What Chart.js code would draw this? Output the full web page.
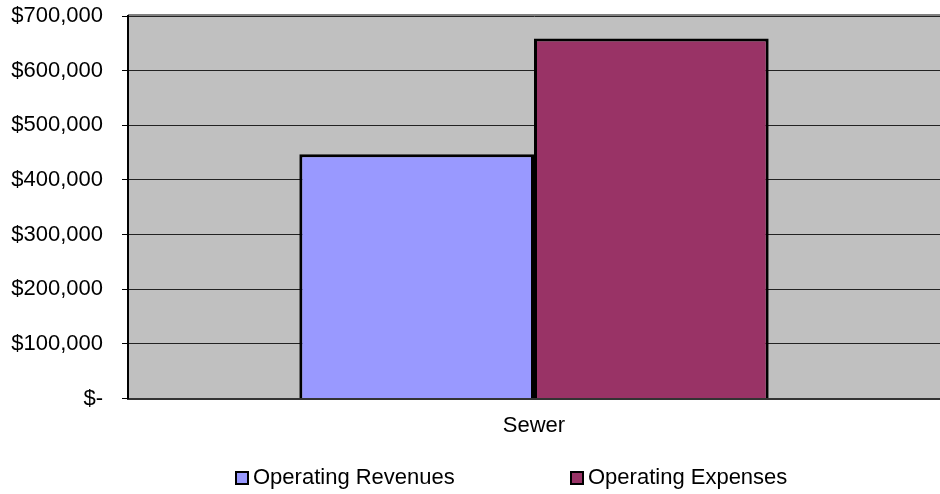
<!DOCTYPE html>
<html>
<head>
<meta charset="utf-8">
<script src="https://cdn.jsdelivr.net/npm/chart.js@4"></script>
<style>
  html, body { margin: 0; padding: 0; background: #fff; }
  #wrap { width: 940px; height: 494px; }
</style>
</head>
<body>
<div id="wrap"><canvas id="Sewer_Chart" width="940" height="494"></canvas></div>
<script>
const categories = ['Sewer'];
const revenues = [447000];
const expenses = [659000];
const yTicks = [0, 100000, 200000, 300000, 400000, 500000, 600000, 700000];

const FONT = 'Liberation Sans, Arial, sans-serif';

// gray plot background + top frame line
const plotBg = {
  id: 'plotBg',
  beforeDraw(chart) {
    const { ctx, chartArea: a } = chart;
    ctx.save();
    ctx.fillStyle = '#C0C0C0';
    ctx.fillRect(a.left, a.top, a.right - a.left, a.bottom - a.top);
    ctx.strokeStyle = '#808080';
    ctx.lineWidth = 2;
    ctx.beginPath();
    ctx.moveTo(a.left, a.top - 1);
    ctx.lineTo(a.right, a.top - 1);
    ctx.stroke();
    ctx.restore();
  }
};

// legend drawn by hand so the gap between items can be wide without a tall box
const bottomLegend = {
  id: 'bottomLegend',
  afterDraw(chart) {
    const ctx = chart.ctx;
    const starts = [235, 570];
    const y = 478;
    ctx.save();
    ctx.font = '22px ' + FONT;
    ctx.textBaseline = 'middle';
    ctx.textAlign = 'left';
    chart.data.datasets.forEach((ds, i) => {
      const x = starts[i];
      ctx.fillStyle = ds.backgroundColor;
      ctx.fillRect(x + 1, y - 6, 12, 12);
      ctx.strokeStyle = '#000';
      ctx.lineWidth = 2;
      ctx.strokeRect(x + 1, y - 6, 12, 12);
      ctx.fillStyle = '#000';
      ctx.fillText(ds.label, x + 18, y);
    });
    ctx.restore();
  }
};

const SewerChart = new Chart(document.getElementById('Sewer_Chart').getContext('2d'), {
  type: 'bar',
  data: {
    labels: categories,
    datasets: [
      {
        label: 'Operating Revenues',
        backgroundColor: '#9999FF',
        borderColor: '#000000',
        borderWidth: 3,
        data: revenues
      },
      {
        label: 'Operating Expenses',
        backgroundColor: '#993366',
        borderColor: '#000000',
        borderWidth: 3,
        data: expenses
      }
    ]
  },
  options: {
    responsive: false,
    animation: false,
    devicePixelRatio: 1,
    layout: { padding: { top: 16, right: 0, left: 0, bottom: 41 } },
    plugins: {
      legend: { display: false },
      tooltip: { enabled: false }
    },
    datasets: {
      bar: { barPercentage: 1, categoryPercentage: 0.578 }
    },
    scales: {
      x: {
        grid: { display: false, drawTicks: false },
        border: { color: '#333', width: 2 },
        ticks: { color: '#000', font: { family: FONT, size: 22 }, padding: 14 }
      },
      y: {
        min: 0,
        max: 700000,
        afterFit(scale) {
          scale.width = 128;
          scale.paddingTop = 0;
          scale.paddingBottom = 0;
        },
        afterBuildTicks(scale) { scale.ticks = yTicks.map(v => ({ value: v })); },
        grid: { color: '#222', lineWidth: 1, tickLength: 6, tickColor: '#000' },
        border: { color: '#000', width: 2 },
        ticks: {
          color: '#000',
          padding: 19,
          font: { family: FONT, size: 22 },
          callback: v => v === 0 ? '$-' : '$' + v.toLocaleString('en-US')
        }
      }
    }
  },
  plugins: [plotBg, bottomLegend]
});
</script>
</body>
</html>
